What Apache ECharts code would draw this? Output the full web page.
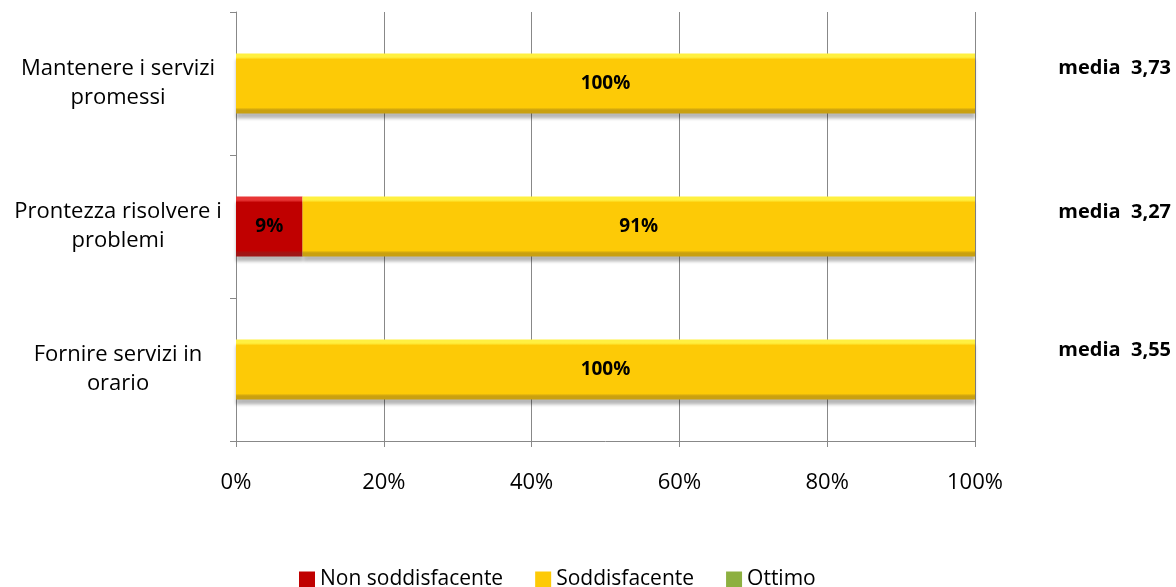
<!DOCTYPE html>
<html><head><meta charset="utf-8">
<script src="https://cdn.jsdelivr.net/npm/echarts@6/dist/echarts.min.js"></script>
<style>html,body{margin:0;padding:0;background:#fff}#c{width:1176px;height:587px}</style>
</head><body><div id="c"></div>
<script>
const categories = ['Fornire servizi in\norario', 'Prontezza risolvere i\nproblemi', 'Mantenere i servizi\npromessi'];
const seriesNames = ['Non soddisfacente', 'Soddisfacente', 'Ottimo'];
const nonSodd = [0, 9, 0];
const sodd = [100, 91, 100];
const ottimo = [0, 0, 0];
const mediaLabels = ['media  3,73', 'media  3,27', 'media  3,55'];
const xTicks = [0, 20, 40, 60, 80, 100];

const FONT = '"Open Sans", "Liberation Sans", sans-serif';
function grad(top, mid, bottom) {
  return new echarts.graphic.LinearGradient(0, 0, 0, 1, [
    {offset: 0, color: top}, {offset: 0.06, color: top}, {offset: 0.1, color: mid}, {offset: 0.9, color: mid}, {offset: 0.94, color: bottom}, {offset: 1, color: bottom}
  ]);
}
const colors = [
  grad('#e83535', '#c00000', '#a01515'),
  grad('#fff040', '#fdca06', '#c9a010'),
  grad('#a8cc60', '#8db040', '#6e8f2c')
];
const legendColors = ['#c00000', '#fdca06', '#8db040'];
const dataSets = [nonSodd, sodd, ottimo];

const chart = echarts.init(document.getElementById('c'));
chart.setOption({
  animation: false,
  color: legendColors,
  grid: {left: 236, right: 201, top: 12, bottom: 146, containLabel: false},
  legend: {
    top: 564, left: 294, itemWidth: 16, itemHeight: 16, itemGap: 32,
    icon: 'rect',
    textStyle: {fontFamily: FONT, fontSize: 21, color: '#000'},
    data: seriesNames.map((n, i) => ({name: n, itemStyle: {color: legendColors[i]}}))
  },
  xAxis: {
    type: 'value', min: 0, max: 100, interval: 20,
    axisLine: {show: true, lineStyle: {color: '#888', width: 1}},
    axisTick: {show: true, length: 6, lineStyle: {color: '#888'}},
    splitLine: {show: true, lineStyle: {color: '#888', width: 1}},
    axisLabel: {formatter: v => xTicks.includes(v) ? v + '%' : '', fontFamily: FONT, fontSize: 22, color: '#000', margin: 31}
  },
  yAxis: {
    type: 'category', data: categories,
    axisLine: {show: true, lineStyle: {color: '#888', width: 1}},
    axisTick: {show: true, length: 6, lineStyle: {color: '#888'}},
    axisLabel: {fontFamily: FONT, fontSize: 22, color: '#000', align: 'center', margin: 118, lineHeight: 29}
  },
  series: dataSets.map((d, i) => ({
    name: seriesNames[i], type: 'bar', stack: 'tot', barWidth: 60,
    data: d,
    itemStyle: {color: colors[i], shadowColor: 'rgba(0,0,0,0.28)', shadowBlur: 3, shadowOffsetY: 5},
    label: {
      show: true, position: 'inside', fontFamily: FONT, fontWeight: 'bold', fontSize: 19, color: '#000',
      formatter: p => p.value > 0 ? p.value + '%' : ''
    }
  })),
  graphic: mediaLabels.map((t, i) => ({
    type: 'text', x: 1171, y: [68, 212, 350][i],
    style: {text: t, font: 'bold 20px ' + FONT, fill: '#000', align: 'right', verticalAlign: 'middle'}
  }))
});
</script></body></html>
